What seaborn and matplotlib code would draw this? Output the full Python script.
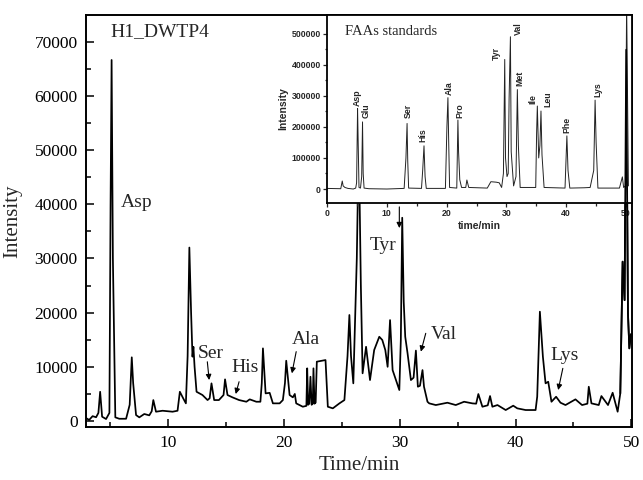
import numpy as np
import pandas as pd
import seaborn as sns
import matplotlib.pyplot as plt

# main chromatogram (H1_DWTP4)
time_main = [2.94, 3.2, 3.5, 3.8, 4.0, 4.15, 4.32, 4.66, 4.95, 5.05, 5.14, 5.25, 5.46, 5.8,
             6.39, 6.7, 6.88, 7.0, 7.25, 7.53, 7.96, 8.39, 8.6, 8.74, 8.97, 9.54, 10.4, 10.83,
             11.03, 11.32, 11.55, 11.7, 11.85, 12.0, 12.12, 12.2, 12.3, 12.47, 12.98, 13.42,
             13.6, 13.76, 13.99, 14.4, 14.8, 14.93, 15.14, 15.57, 16.14, 16.77, 17.06, 17.63,
             17.98, 18.1, 18.2, 18.43, 18.78, 19.06, 19.64, 19.92, 20.1, 20.21, 20.5, 20.78,
             20.95, 21.07, 21.64, 21.95, 22.02, 22.1, 22.2, 22.3, 22.4, 22.5, 22.56, 22.65,
             22.75, 22.85, 23.6, 23.8, 24.23, 24.8, 25.23, 25.5, 25.66, 25.8, 26.0, 26.3,
             26.47, 26.65, 26.8, 27.1, 27.44, 27.8, 28.24, 28.5, 28.76, 28.96, 29.17, 29.39,
             29.68, 29.97, 30.1, 30.22, 30.35, 30.48, 30.68, 30.97, 31.2, 31.4, 31.57, 31.75,
             31.97, 32.1, 32.4, 32.55, 33.12, 34.12, 34.84, 35.56, 36.27, 36.6, 36.79, 37.14,
             37.6, 37.8, 38.0, 38.44, 39.15, 39.8, 40.15, 40.87, 41.73, 41.87, 42.1, 42.36,
             42.59, 42.82, 43.1, 43.5, 43.88, 44.31, 45.17, 45.74, 46.2, 46.32, 46.55, 47.18,
             47.41, 47.98, 48.38, 48.81, 49.04, 49.24, 49.41, 49.55, 49.7, 49.82, 49.95]
intensity_main = [550, 200, 900, 700, 1500, 5400, 800, 370, 1500, 40000, 66600, 30000, 680, 420,
                  420, 3000, 11750, 7000, 1100, 680, 1300, 1050, 1800, 3870, 1720, 1900, 1720, 1900,
                  5400, 4180, 3260, 12000, 32000, 20000, 11870, 13700, 10000, 5400, 4800, 3870,
                  4200, 6950, 3870, 3870, 4800, 7690, 4800, 4370, 3870, 3560, 4000, 3560,
                  3560, 7000, 13400, 5100, 5200, 3260, 3260, 3870, 7000, 11130, 4800, 4370,
                  5000, 3260, 2640, 2800, 9720, 3000, 3200, 8170, 3000, 3200, 9720, 3200,
                  3400, 10950, 11250, 2640, 2340, 3260, 3870, 12000, 19560, 12000, 6950, 30000,
                  52000, 25000, 8800, 13700, 7560, 13100, 15550, 14950, 13100, 10000, 18630, 9400,
                  7560, 5720, 15000, 37500, 22000, 15550, 12500, 7560, 8000, 13000, 6330, 6500,
                  9400, 6330, 3560, 3260, 2950, 3380, 2950, 3560, 3260, 3200, 4980, 2640,
                  2900, 4610, 2640, 2950, 2030, 2830, 2340, 2030, 2030, 4500, 20170, 11870,
                  6950, 7250, 3560, 4480, 3380, 2950, 4000, 2950, 3200, 6330, 3260, 2950,
                  4610, 2950, 5220, 1720, 5100, 29400, 22300, 68500, 20000, 13400, 16000]

# inset chromatogram (FAAs standards)
time_std = [0.0, 1.0, 2.3, 2.55, 2.7, 3.0, 3.5, 4.39, 4.8, 4.95, 5.11, 5.2, 5.35, 5.6, 5.8,
            5.94, 6.05, 6.2, 7.0, 10.0, 12.9, 13.2, 13.39, 13.5, 13.65, 15.8, 16.0, 16.22,
            16.4, 16.6, 19.8, 20.05, 20.22, 20.35, 20.5, 21.7, 21.89, 22.0, 22.2, 22.5, 23.2,
            23.39, 23.7, 26.8, 27.4, 28.3, 28.8, 29.2, 29.5, 29.72, 29.85, 30.1, 30.3, 30.45,
            30.67, 30.8, 31.2, 31.6, 31.83, 32.0, 32.3, 34.9, 35.05, 35.17, 35.4, 35.6, 35.78,
            35.95, 36.3, 39.8, 40.11, 40.3, 40.6, 43.0, 44.0, 44.6, 44.83, 45.0, 45.3, 48.9,
            49.39, 49.6, 49.9, 50.1, 50.4]
intensity_std = [2000, 1500, 1000, 25700, 10000, 5000, 2000, 0, 3000, 20000, 259000, 164000, 5000,
                 3000, 40000, 216000, 50000, 3000, 1000, 0, 2000, 100000, 211000, 90000, 3000,
                 2000, 60000, 139000, 40000, 2000, 2000, 200000, 294000, 150000, 5000, 3000,
                 222000, 120000, 30000, 5000, 5000, 29000, 5000, 3000, 23500, 22000, 20000, 5000,
                 50000, 417000, 100000, 40000, 50000, 292000, 490000, 120000, 10000, 40000, 320000,
                 140000, 5000, 5000, 180000, 267000, 100000, 140000, 251000, 110000, 5000, 3000,
                 171000, 60000, 3000, 4000, 5000, 60000, 286000, 150000, 3000, 3000, 39000, 5000,
                 10000, 600000, 10000]

std_names = ['Asp', 'Glu', 'Ser', 'His', 'Ala', 'Pro', 'Tyr', 'Val', 'Met', 'Ile', 'Leu', 'Phe', 'Lys']
std_label_t = [5.1, 6.6, 13.67, 16.06, 20.5, 22.17, 28.4, 32.06, 32.2, 34.5, 37.0, 40.1, 45.3]
std_label_y = [267000, 227000, 227000, 152000, 302000, 227000, 415000, 495000, 331000, 275000,
               265000, 181000, 297000]

# main labels: name, text position, arrow tail, arrow tip
main_names = ['Ser', 'His', 'Ala', 'Tyr', 'Val', 'Lys']
main_text_xy = [(12.6, 12550), (15.5, 9960), (20.67, 14950), (27.44, 32300), (32.7, 16050), (43.0, 12180)]
arrow_tail = [(13.4, 10930), (16.14, 7250), (21.07, 12800), (29.97, 39500), (32.25, 16180), (44.08, 9720)]
arrow_tip = [(13.56, 7560), (15.85, 4980), (20.7, 8800), (29.97, 35600), (31.83, 12800), (43.68, 5720)]

sns.set_style('ticks')
plt.rcParams['font.family'] = ['Liberation Serif', 'DejaVu Serif']

df_main = pd.DataFrame({'t': time_main, 'I': intensity_main})
df_std = pd.DataFrame({'t': time_std, 'I': intensity_std})

fig = plt.figure(figsize=(6.43, 4.8), dpi=100)
pos_main = [86 / 643, 53 / 480, 546 / 643, 412 / 480]
ax = fig.add_axes(pos_main)
sns.lineplot(data=df_main, x='t', y='I', ax=ax, color='black', lw=1.25, sort=False, estimator=None)
ax.set_xlim(2.93, 50.05)
ax.set_ylim(-1100, 74900)
ax.set_xticks([10, 20, 30, 40, 50])
ax.set_xticks(np.arange(5, 50, 5), minor=True)
ax.set_yticks(np.arange(0, 70001, 10000))
ax.set_yticks(np.arange(5000, 75000, 10000), minor=True)
ax.tick_params(which='both', direction='in', width=1.1, labelsize=12.5, colors='black', pad=6,
               top=False, right=False)
ax.tick_params(which='major', length=6)
ax.tick_params(which='minor', length=3.5)
for s in ax.spines.values():
    s.set_linewidth(1.4)
    s.set_color('black')
ax.set_xlabel('Time/min', fontsize=15, labelpad=3)
ax.set_ylabel('Intensity', fontsize=15, labelpad=9)

ax.text(5.0, 71800, 'H1_DWTP4', fontsize=14, va='center', ha='left')
ax.text(5.95, 40400, 'Asp', fontsize=14, va='center', ha='left')
for name, txy, tail, tip in zip(main_names, main_text_xy, arrow_tail, arrow_tip):
    ax.text(txy[0], txy[1], name, fontsize=14, va='center', ha='left')
    ax.annotate('', xy=tip, xytext=tail,
                arrowprops=dict(arrowstyle='-|>', color='black', lw=0.8, mutation_scale=8,
                                shrinkA=0, shrinkB=0))

# inset with the standards
axi = fig.add_axes([327 / 643, 277 / 480, 305 / 643, 188 / 480])
axi.set_zorder(3)
axi.set_facecolor('white')
sns.lineplot(data=df_std, x='t', y='I', ax=axi, color='#222222', lw=0.7, sort=False, estimator=None)
axi.set_xlim(0, 51)
axi.set_ylim(-45000, 560000)
axi.set_xticks([0, 10, 20, 30, 40, 50])
axi.set_xticks(np.arange(5, 50, 5), minor=True)
axi.set_yticks(np.arange(0, 500001, 100000))
axi.set_yticks(np.arange(50000, 550000, 100000), minor=True)
axi.tick_params(which='both', direction='out', width=0.9, pad=1.5, top=False, right=False)
axi.tick_params(which='major', length=3)
axi.tick_params(which='minor', length=1.8)
for lab in axi.get_xticklabels() + axi.get_yticklabels():
    lab.set_family('Liberation Sans')
    lab.set_fontweight('bold')
    lab.set_fontsize(6.3)
for s in axi.spines.values():
    s.set_linewidth(1.3)
    s.set_color('black')
axi.set_xlabel('time/min', fontsize=7.5, fontweight='bold', family='Liberation Sans', labelpad=2)
axi.set_ylabel('Intensity', fontsize=7.5, fontweight='bold', family='Liberation Sans', labelpad=2)
axi.text(3.0, 508000, 'FAAs standards', fontsize=10.5, va='center', ha='left')
for name, tx, ty in zip(std_names, std_label_t, std_label_y):
    axi.text(tx, ty, name, rotation=90, fontsize=6.3, fontweight='bold', family='Liberation Sans',
             ha='center', va='bottom')

# last main peak runs over the inset
ax_top = fig.add_axes(pos_main)
ax_top.set_zorder(4)
ax_top.set_axis_off()
ax_top.patch.set_visible(False)
tail_part = df_main[df_main['t'] >= 49.04]
sns.lineplot(data=tail_part, x='t', y='I', ax=ax_top, color='black', lw=1.25, sort=False, estimator=None)
ax_top.set_xlim(ax.get_xlim())
ax_top.set_ylim(ax.get_ylim())

fig.savefig('out.png', dpi=100)
